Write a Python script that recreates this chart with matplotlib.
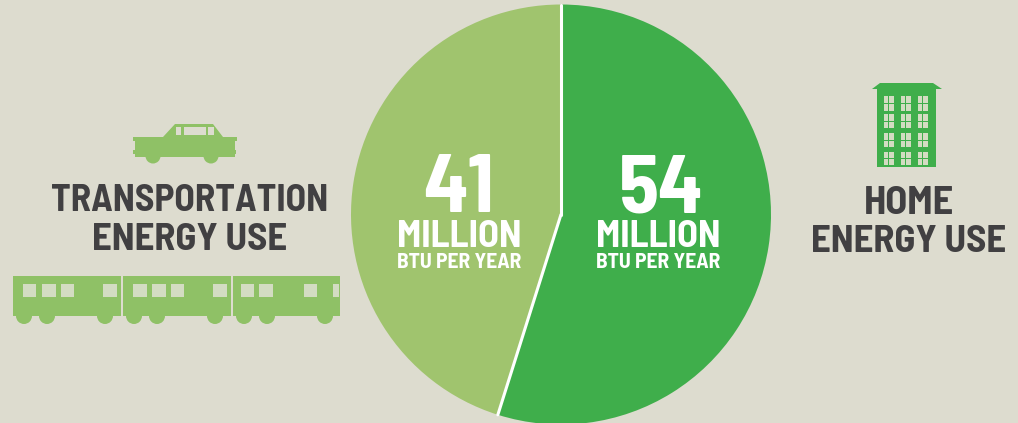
from __future__ import annotations

import numpy as np
import matplotlib

matplotlib.use("Agg")
import matplotlib.pyplot as plt
from matplotlib import font_manager as fm
from matplotlib.patches import Circle, Polygon, Rectangle

# printed values, and the slice angles as they are drawn in the picture
home_label = "54"
transport_label = "41"
slice_degrees = [197.5, 162.5]
unit_top = "MILLION"
unit_bottom = "BTU PER YEAR"

BG = "#DDDCCF"
LIGHT = "#A0C46E"
DARK = "#3FAE4B"
ICON_LIGHT = "#8FC166"
WINDOW = "#D3DCC2"
TEXT = "#414042"
H = 423

installed = {f.name for f in fm.fontManager.ttflist}
FONT = [n for n in ["Barlow Semi Condensed", "Roboto Condensed", "Roboto", "DejaVu Sans"] if n in installed]


def rect(ax, x0, y0, x1, y1, color, z=3):
    ax.add_patch(Rectangle((x0, H - y1), x1 - x0, y1 - y0, fc=color, ec="none", zorder=z))


def poly(ax, pts, color, z=3):
    ax.add_patch(Polygon([(x, H - y) for x, y in pts], fc=color, ec="none", zorder=z))


def wheel(ax, x, y, r, color, z=3):
    ax.add_patch(Circle((x, H - y), r, fc=color, ec="none", zorder=z))


def label(ax, x, y, s, size, color, weight="bold"):
    ax.text(x, H - y, s, fontsize=size, color=color, ha="center", va="baseline",
            family=FONT, fontweight=weight, zorder=5)


def draw_car(ax):
    poly(ax, [(163, 137), (175, 124), (213, 124), (223, 137)], ICON_LIGHT)
    rect(ax, 135, 137, 235, 157, ICON_LIGHT)
    rect(ax, 133, 137, 237, 141, ICON_LIGHT)
    rect(ax, 133, 150, 236, 154, ICON_LIGHT)
    for x in (153, 211):
        wheel(ax, x, 156, 7.5, ICON_LIGHT)
    for x0, x1 in [(176, 181), (184, 206), (208, 214)]:
        rect(ax, x0, 127, x1, 135, BG, z=4)


def draw_train(ax):
    for x0, x1 in [(13, 121), (123, 231), (233, 340)]:
        rect(ax, x0, 276, x1, 316, ICON_LIGHT)
        for x in (x0 + 11, x0 + 34, x0 + 92):
            wheel(ax, x, 316, 8, ICON_LIGHT)
    for x0, x1 in [(23, 36), (42, 56), (61, 74), (103, 117),
                   (133, 147), (152, 166), (171, 184), (213, 227),
                   (241, 254), (259, 273), (304, 317), (333, 339)]:
        rect(ax, x0, 284, x1, 297, WINDOW, z=4)


def draw_building(ax):
    poly(ax, [(872, 89), (880, 83), (933, 83), (942, 89)], DARK)
    rect(ax, 877, 89, 936, 167, DARK)
    for x0 in (884, 901, 918):
        for y0, y1 in [(96, 111), (114, 128), (133, 147), (152, 165)]:
            rect(ax, x0, y0, x0 + 10, y1, WINDOW, z=4)
            rect(ax, x0 + 4.5, y0, x0 + 5.5, y1, DARK, z=5)
            rect(ax, x0, (y0 + y1) / 2 - 0.5, x0 + 10, (y0 + y1) / 2 + 0.5, DARK, z=5)


fig = plt.figure(figsize=(10.18, 4.23), dpi=100, facecolor=BG)
ax = fig.add_axes([0, 0, 1, 1])

cx, cy, radius = 561, 214.5, 210
ax.pie(slice_degrees, colors=[DARK, LIGHT], startangle=90, counterclock=False,
       center=(cx, H - cy), radius=radius, wedgeprops={"linewidth": 0})
ax.set_xlim(0, 1018)
ax.set_ylim(0, H)
ax.set_aspect("equal")
ax.axis("off")

# white divider between the slices
for deg in (0, slice_degrees[0]):
    a = np.radians(deg)
    ax.plot([cx, cx + radius * np.sin(a)], [H - cy, H - cy + radius * np.cos(a)],
            color="white", lw=2.2, solid_capstyle="round", zorder=2)

draw_car(ax)
draw_train(ax)
draw_building(ax)

label(ax, 190, 211, "TRANSPORTATION", 27, TEXT)
label(ax, 190, 250, "ENERGY USE", 28, TEXT)
label(ax, 909, 214, "HOME", 29, TEXT)
label(ax, 909, 252, "ENERGY USE", 28, TEXT)

for x, value, unit_x in [(459, transport_label, 459), (661, home_label, 658)]:
    label(ax, x, 212, value, 59, "white")
    label(ax, unit_x, 247, unit_top, 27.5, "white")
    label(ax, unit_x, 268, unit_bottom, 15.5, "white")

fig.savefig("out.png", dpi=100, facecolor=BG)
